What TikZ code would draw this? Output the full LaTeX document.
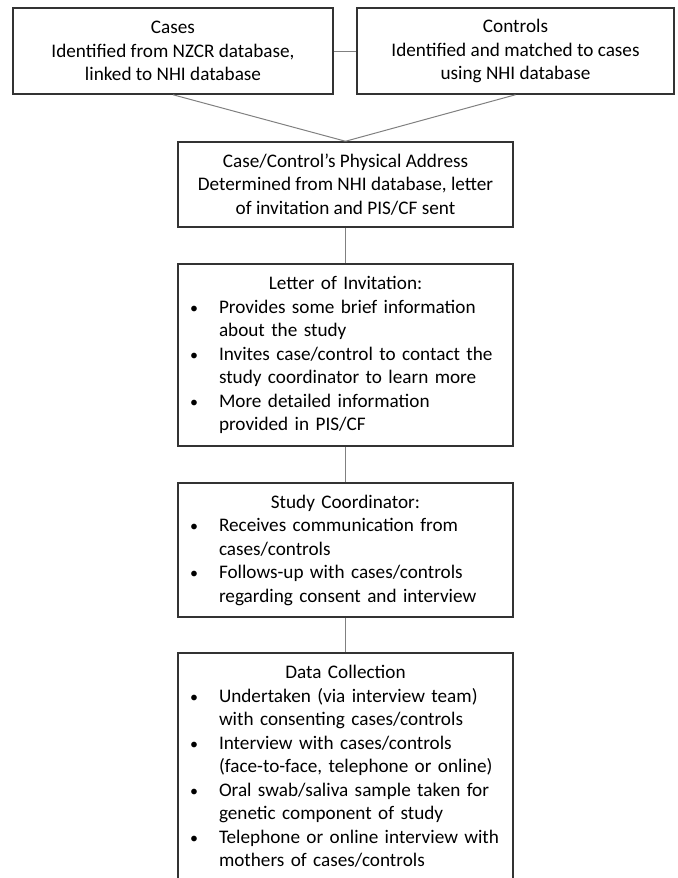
\documentclass[tikz,border=0pt]{standalone}
\usepackage{fontspec}
\setmainfont{Carlito}
\usepackage{enumitem}
\setlist[itemize]{nosep, leftmargin=16pt, labelsep=10.5pt, label={\footnotesize\textbullet}}
\begin{document}
\begin{tikzpicture}
  [
  x=0.5pt, y=-0.5pt,
  font=\fontsize{9.6}{11.75}\selectfont, line width=0.75pt,
  topbox/.style={rectangle, minimum height=43pt, inner sep=0pt, align=center, draw=black!80},
  stepbox/.style={rectangle, text width=158.5pt, inner xsep=4.5pt, inner ysep=0pt, align=left, draw=black!80},
  link/.style={draw=black!50, line width=0.5pt}
  ]

\useasboundingbox (0,0) rectangle (678,878);

\node[topbox, minimum width=160pt] (cases) at (173,51) {Cases\\Identified from NZCR database,\\linked to NHI database};
\node[topbox, minimum width=158.5pt] (controls) at (515.5,51) {Controls\\Identified and matched to cases\\using NHI database};
\node[topbox, minimum width=167.5pt, minimum height=42.5pt] (address) at (345.5,184.5) {Case/Control's Physical Address\\Determined from NHI database, letter\\of invitation and PIS/CF sent};

\node[stepbox, minimum height=91pt] (letter) at (345.5,355) {{\centering Letter of Invitation:\par}
  \begin{itemize}
  \item Provides some brief information\\about the study
  \item Invites case/control to contact the\\study coordinator to learn more
  \item More detailed information\\provided in PIS/CF
  \end{itemize}};

\node[stepbox, minimum height=67pt] (coord) at (345.5,550) {{\centering Study Coordinator:\par}
  \begin{itemize}
  \item Receives communication from\\cases/controls
  \item Follows-up with cases/controls\\regarding consent and interview
  \end{itemize}};

\node[stepbox, minimum height=113.5pt] (data) at (345.5,766.5) {{\centering Data Collection\par}
  \begin{itemize}
  \item Undertaken (via interview team)\\with consenting cases/controls
  \item Interview with cases/controls\\(face-to-face, telephone or online)
  \item Oral swab/saliva sample taken for\\genetic component of study
  \item Telephone or online interview with\\mothers of cases/controls
  \end{itemize}};

\draw[link] (cases) -- (controls);
\draw[link] (cases.south) -- (address.north);
\draw[link] (controls.south) -- (address.north);
\draw[link] (address) -- (letter);
\draw[link] (letter) -- (coord);
\draw[link] (coord) -- (data);
\end{tikzpicture}
\end{document}
